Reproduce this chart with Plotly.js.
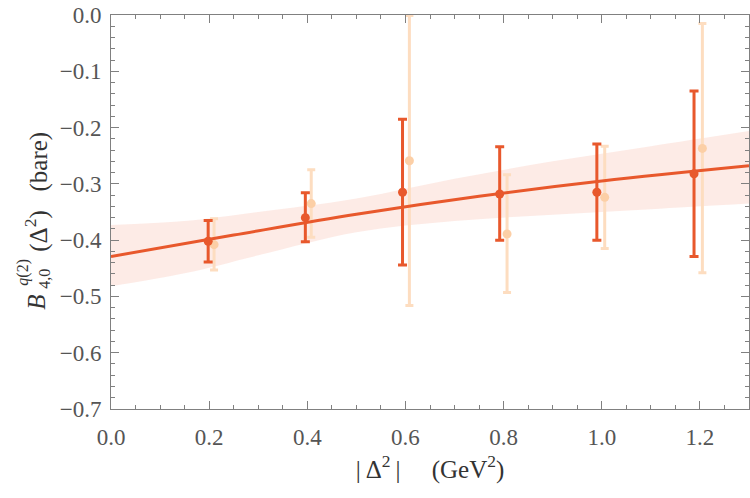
<!DOCTYPE html>
<html>
<head>
<meta charset="utf-8">
<script src="https://cdn.plot.ly/plotly-3.0.1.min.js"></script>
<style>html,body{margin:0;padding:0;background:#fff}</style>
</head>
<body>
<div id="chart" style="width:750px;height:498px"></div>
<script>
// Main lattice points (dark) with their error ranges
const darkX  = [0.198, 0.396, 0.594, 0.792, 0.990, 1.188];
const darkY  = [-0.402, -0.360, -0.315, -0.318, -0.315, -0.282];
const darkHi = [-0.365, -0.316, -0.185, -0.234, -0.229, -0.135];
const darkLo = [-0.439, -0.403, -0.444, -0.400, -0.400, -0.429];

// Secondary points (light), slightly shifted to the right
const lightX  = [0.210, 0.408, 0.608, 0.807, 1.006, 1.205];
const lightY  = [-0.408, -0.335, -0.259, -0.389, -0.324, -0.237];
const lightHi = [-0.362, -0.275, -0.001, -0.284, -0.233, -0.015];
const lightLo = [-0.453, -0.395, -0.516, -0.493, -0.415, -0.458];

// Fit curve and its uncertainty band
const fitX = [0, 0.25, 0.5, 0.75, 1.0, 1.3];
const fitY = [-0.429, -0.391, -0.354, -0.322, -0.295, -0.268];
const bandX  = [0, 0.15, 0.3, 0.5, 0.7, 0.9, 1.1, 1.3];
const bandHi = [-0.373, -0.366, -0.350, -0.326, -0.291, -0.260, -0.233, -0.206];
const bandLo = [-0.482, -0.459, -0.427, -0.386, -0.366, -0.355, -0.345, -0.335];

// Axis ticks
const xTicks = [0, 0.2, 0.4, 0.6, 0.8, 1.0, 1.2];
const yTicks = [0, -0.1, -0.2, -0.3, -0.4, -0.5, -0.6, -0.7];

const DARK = '#E8582C';
const LIGHT_BAR = '#FDDDC0';
const LIGHT_DOT = '#FCCFA6';
const FONT = 'Liberation Serif';
const INK = '#333';

const up = (hi, y) => hi.map((h, i) => h - y[i]);
const dn = (lo, y) => lo.map((l, i) => y[i] - l);

const traces = [
  { x: bandX, y: bandLo, mode: 'lines', line: { width: 0, shape: 'spline' }, hoverinfo: 'skip', showlegend: false },
  { x: bandX, y: bandHi, mode: 'lines', line: { width: 0, shape: 'spline' }, fill: 'tonexty',
    fillcolor: 'rgba(242,120,90,0.15)', hoverinfo: 'skip', showlegend: false },
  { x: lightX, y: lightY, mode: 'markers', showlegend: false,
    marker: { color: LIGHT_DOT, size: 9 },
    error_y: { type: 'data', symmetric: false, array: up(lightHi, lightY), arrayminus: dn(lightLo, lightY),
               color: LIGHT_BAR, thickness: 3, width: 4 } },
  { x: fitX, y: fitY, mode: 'lines', line: { color: DARK, width: 3, shape: 'spline' }, showlegend: false },
  { x: darkX, y: darkY, mode: 'markers', showlegend: false,
    marker: { color: DARK, size: 9 },
    error_y: { type: 'data', symmetric: false, array: up(darkHi, darkY), arrayminus: dn(darkLo, darkY),
               color: DARK, thickness: 3, width: 4.5 } }
];

const axisCommon = {
  showgrid: false, zeroline: false, showline: true, linecolor: '#808080', linewidth: 1,
  mirror: 'ticks', ticks: 'inside', ticklen: 8, tickwidth: 1, tickcolor: '#808080',
  tickfont: { family: FONT, size: 23, color: '#555' }, tickformat: '.1f', tickmode: 'array'
};

// Plot-area geometry used to place the y-axis title pieces
const L = 111, T = 15, W = 638, H = 394.5;
const px = v => (v - L) / W;
const py = v => (T + H - v) / H;
const rot = (text, x, y, size) => ({
  text, xref: 'paper', yref: 'paper', x: px(x), y: py(y), xanchor: 'center', yanchor: 'middle',
  textangle: -90, showarrow: false, font: { family: FONT, size, color: INK }
});

const layout = {
  width: 750, height: 498,
  margin: { l: L, r: 1, t: T, b: 89 },
  paper_bgcolor: '#fff', plot_bgcolor: '#fff',
  font: { family: FONT, color: INK },
  xaxis: Object.assign({}, axisCommon, {
    range: [0, 1.3], tickvals: xTicks, ticklabelstandoff: 7,
    minor: { dtick: 0.05, ticks: 'inside', ticklen: 4, tickcolor: '#808080' },
    title: { text: '|\u2009Δ<sup>2</sup>\u2009|\u2003 (GeV<sup>2</sup>)', font: { family: FONT, size: 25, color: INK }, standoff: 11 }
  }),
  yaxis: Object.assign({}, axisCommon, {
    range: [-0.7, 0], tickvals: yTicks, ticklabelstandoff: 4,
    minor: { dtick: 0.02, ticks: 'inside', ticklen: 4, tickcolor: '#808080' }
  }),
  annotations: [
    rot('<i>B</i>', 37, 303, 25),
    rot('4,0', 45, 279, 16),
    rot('<i>q</i>(2)', 23, 273, 16),
    rot('(Δ<sup>2</sup>)\u2002 (bare)', 37, 192, 25)
  ]
};

Plotly.newPlot('chart', traces, layout, { staticPlot: true, displayModeBar: false });
</script>
</body>
</html>
